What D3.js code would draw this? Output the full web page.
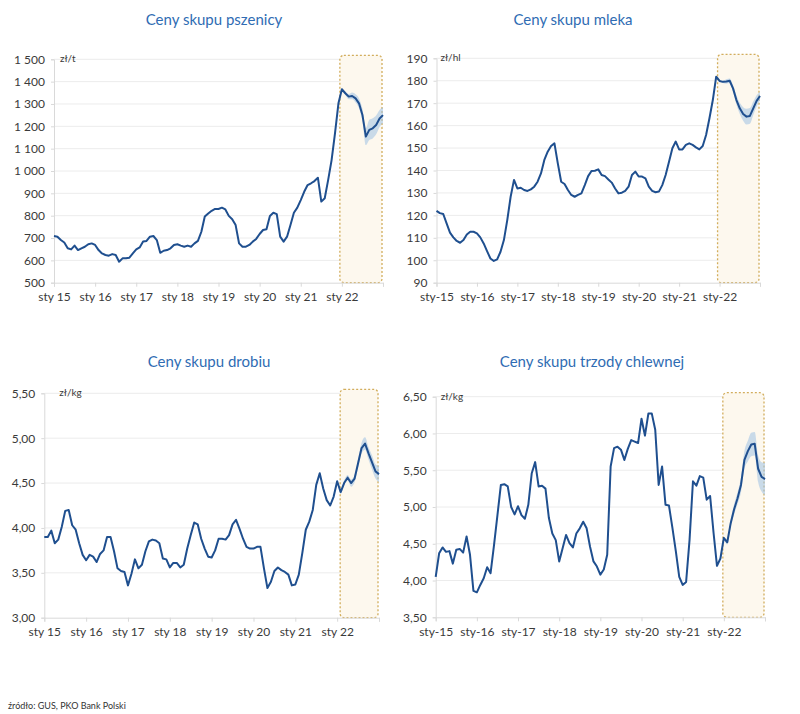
<!DOCTYPE html>
<html>
<head>
<meta charset="utf-8">
<script src="https://cdn.jsdelivr.net/npm/d3@7"></script>
<style>
  html, body { margin: 0; padding: 0; background: #ffffff; }
  svg { display: block; }
</style>
</head>
<body>
<svg id="chart" width="800" height="714"></svg>
<script>
// ---- DATA (monthly, Jan 2015 .. Jan 2023) ----
const yearLabelsSpace = ["sty 15","sty 16","sty 17","sty 18","sty 19","sty 20","sty 21","sty 22"];
const yearLabelsDash  = ["sty-15","sty-16","sty-17","sty-18","sty-19","sty-20","sty-21","sty-22"];

const wheat = [709,706,691,680,654,649,666,646,654,661,672,676,
  669,646,631,624,621,628,624,594,609,609,612,631,
  649,658,684,687,706,709,691,634,643,646,654,669,
  672,666,661,666,661,676,687,728,796,810,822,830,
  830,836,828,799,784,758,676,661,661,669,684,696,
  718,736,739,799,813,807,706,684,706,758,813,836,
  870,907,937,945,955,970,863,878,960,1049,1169,1303,
  1366,1348,1333,1336,1325,1303,1251,1154,1184,1191,1206,1235,1250];
const wheatBand = [0,8,12,15,18,22,28,38,45,45,42,38,35];
const wheatTicks = [500,600,700,800,900,1000,1100,1200,1300,1400,1500];

const milk = [122,121,120.6,116.4,112.3,110.2,108.6,107.8,109,111.5,112.7,112.7,
  112,110.2,107.5,104.1,100.8,99.7,100.4,103.8,109,117.9,128.3,135.8,
  132,132.3,131.3,130.9,131.6,132.8,135,138.7,144.7,148.4,150.9,152.1,
  143.2,135,134,131.3,129.1,128.3,129.1,129.8,133.5,137.5,139.8,139.9,
  140.5,138,137.5,136,134.6,132,129.8,130.1,130.9,132.8,138,139.5,
  137.3,137.3,136.5,132.8,130.9,130.3,130.6,133.5,138,143.9,149.9,152.9,
  149.4,149.4,151.4,152.1,151.4,150.3,149.4,150.9,155.8,163.3,171.4,181.8,
  179.9,179.5,179.7,180,176.6,171.4,167.7,165.2,164,164.3,167.7,171,173.2];
const milkBand = [0,0.5,1,1,1.5,2,2.5,3,3.5,3.5,3,2.5,2];
const milkTicks = [90,100,110,120,130,140,150,160,170,180,190];

const poultry = [3.90,3.90,3.97,3.83,3.87,4.01,4.19,4.20,4.03,3.98,3.83,3.70,
  3.64,3.70,3.68,3.62,3.71,3.75,3.90,3.90,3.74,3.55,3.52,3.51,
  3.36,3.49,3.65,3.55,3.59,3.74,3.85,3.87,3.86,3.83,3.66,3.65,
  3.56,3.61,3.61,3.56,3.59,3.77,3.92,4.06,4.04,3.88,3.77,3.68,
  3.67,3.75,3.88,3.88,3.87,3.92,4.04,4.09,3.99,3.88,3.79,3.77,
  3.77,3.79,3.79,3.55,3.33,3.40,3.52,3.56,3.53,3.51,3.48,3.36,
  3.37,3.48,3.72,3.98,4.07,4.20,4.48,4.61,4.44,4.31,4.25,4.35,
  4.52,4.40,4.50,4.56,4.50,4.55,4.72,4.89,4.94,4.83,4.73,4.63,4.60];
const poultryBand = [0,0.02,0.03,0.03,0.04,0.04,0.05,0.06,0.07,0.07,0.08,0.08,0.09];
const poultryTicks = [3.0,3.5,4.0,4.5,5.0,5.5];

const pork = [4.05,4.37,4.45,4.39,4.40,4.23,4.42,4.43,4.38,4.60,4.35,3.86,
  3.84,3.94,4.03,4.18,4.10,4.48,4.89,5.30,5.31,5.28,5.00,4.90,
  5.01,4.89,4.84,5.03,5.46,5.61,5.28,5.29,5.25,4.85,4.64,4.55,
  4.26,4.44,4.62,4.51,4.45,4.64,4.71,4.80,4.71,4.46,4.26,4.19,
  4.08,4.15,4.35,5.55,5.80,5.82,5.78,5.64,5.79,5.91,5.89,5.87,
  6.20,5.97,6.27,6.27,6.05,5.30,5.55,5.03,5.02,4.72,4.40,4.05,
  3.94,3.98,4.55,5.35,5.29,5.42,5.40,5.10,5.15,4.65,4.20,4.30,
  4.58,4.52,4.78,4.97,5.12,5.30,5.64,5.76,5.85,5.86,5.52,5.41,5.38];
const porkBand = [0,0.03,0.05,0.07,0.08,0.1,0.12,0.14,0.16,0.16,0.18,0.2,0.22];
const porkTicks = [3.5,4.0,4.5,5.0,5.5,6.0,6.5];

const forecastStart = 84;

const titles = ["Ceny skupu pszenicy","Ceny skupu mleka","Ceny skupu drobiu","Ceny skupu trzody chlewnej"];
const units = ["zł/t","zł/hl","zł/kg","zł/kg"];

// ---- LAYOUT ----
const fmtSpace = v => d3.format(",")(v).replace(/,/g, " ");
const fmtComma = v => d3.format(".2f")(v).replace(".", ",");

const panels = [
  {title: titles[0], unit: units[0], data: wheat, band: wheatBand, ticks: wheatTicks, fmt: fmtSpace, labels: yearLabelsSpace,
   x0: 54, x1: 383, yTop: 59.3, yBot: 282.7, titleX: 214, titleY: 25, unitDx: 6, boxDx: -2},
  {title: titles[1], unit: units[1], data: milk, band: milkBand, ticks: milkTicks, fmt: d => String(d), labels: yearLabelsDash,
   x0: 436.5, x1: 760, yTop: 58.3, yBot: 282.7, titleX: 573, titleY: 25, unitDx: 4, boxDx: -2},
  {title: titles[2], unit: units[2], data: poultry, band: poultryBand, ticks: poultryTicks, fmt: fmtComma, labels: yearLabelsSpace,
   x0: 44.3, x1: 379, yTop: 393.3, yBot: 617.7, titleX: 209, titleY: 367, unitDx: 15, boxDx: 3},
  {title: titles[3], unit: units[3], data: pork, band: porkBand, ticks: porkTicks, fmt: fmtComma, labels: yearLabelsDash,
   x0: 435.7, x1: 765, yTop: 396.7, yBot: 617.3, titleX: 592, titleY: 367, unitDx: 5, boxDx: -1}
];

const svg = d3.select("#chart");
const textCol = "#3a3a3a";
const font = "Lato, 'Open Sans', sans-serif";

panels.forEach(p => {
  const n = p.data.length;
  const x = d3.scaleLinear().domain([0, n - 1]).range([p.x0, p.x1]);
  const y = d3.scaleLinear().domain([p.ticks[0], p.ticks[p.ticks.length - 1]]).range([p.yBot, p.yTop]);
  const g = svg.append("g");

  // title
  g.append("text").attr("x", p.titleX).attr("y", p.titleY)
    .attr("text-anchor", "middle").attr("font-family", font).attr("font-size", 15)
    .attr("fill", "#2f6cb3").text(p.title);

  // gridlines
  g.selectAll("line.grid").data(p.ticks.slice(1)).join("line")
    .attr("x1", p.x0).attr("x2", p.x1)
    .attr("y1", d => y(d)).attr("y2", d => y(d))
    .attr("stroke", "#ececec").attr("stroke-width", 1);

  // forecast box
  const bx0 = x(forecastStart) + p.boxDx, bx1 = x(n - 1) - 1;
  g.append("rect")
    .attr("x", bx0).attr("y", p.yTop - 4)
    .attr("width", bx1 - bx0).attr("height", p.yBot - p.yTop + 4)
    .attr("rx", 4).attr("ry", 4)
    .attr("fill", "#fdf8ee").attr("stroke", "#d2ad5c")
    .attr("stroke-width", 1.3).attr("stroke-dasharray", "2,2");

  // y axis
  const yAxis = d3.axisLeft(y).tickValues(p.ticks).tickFormat(p.fmt).tickSize(3).tickPadding(6);
  const ya = g.append("g").attr("transform", `translate(${p.x0},0)`).call(yAxis);
  ya.select(".domain").attr("stroke", "#d9d9d9");
  ya.selectAll(".tick line").attr("stroke", "#d9d9d9");
  ya.selectAll("text").attr("font-family", font).attr("font-size", 12).attr("fill", textCol);

  // x axis
  const xt = d3.range(0, n, 12);
  const xAxis = d3.axisBottom(x).tickValues(xt).tickFormat((d, i) => p.labels[i] || "").tickSize(4).tickPadding(6);
  const xa = g.append("g").attr("transform", `translate(0,${p.yBot})`).call(xAxis);
  xa.select(".domain").attr("stroke", "#d9d9d9");
  xa.selectAll(".tick line").attr("stroke", "#d9d9d9");
  xa.selectAll("text").attr("font-family", font).attr("font-size", 12).attr("fill", textCol);

  // unit label
  g.append("text").attr("x", p.x0 + p.unitDx).attr("y", p.yTop + 3)
    .attr("font-family", font).attr("font-size", 10).attr("fill", textCol).text(p.unit);

  // band
  const bandData = p.band.map((b, k) => ({i: forecastStart + k, v: p.data[forecastStart + k], b}));
  g.append("path").datum(bandData)
    .attr("d", d3.area().x(d => x(d.i)).y0(d => y(d.v - d.b)).y1(d => y(d.v + d.b)).curve(d3.curveMonotoneX))
    .attr("fill", "#9fc1e4").attr("opacity", 0.55);

  // line
  g.append("path").datum(p.data)
    .attr("d", d3.line().x((d, i) => x(i)).y(d => y(d)))
    .attr("fill", "none").attr("stroke", "#1f4f8f").attr("stroke-width", 2)
    .attr("stroke-linejoin", "round");
});

svg.append("text").attr("x", 8).attr("y", 709)
  .attr("font-family", font).attr("font-size", 9).attr("fill", "#333")
  .text("źródło: GUS, PKO Bank Polski");
</script>
</body>
</html>
